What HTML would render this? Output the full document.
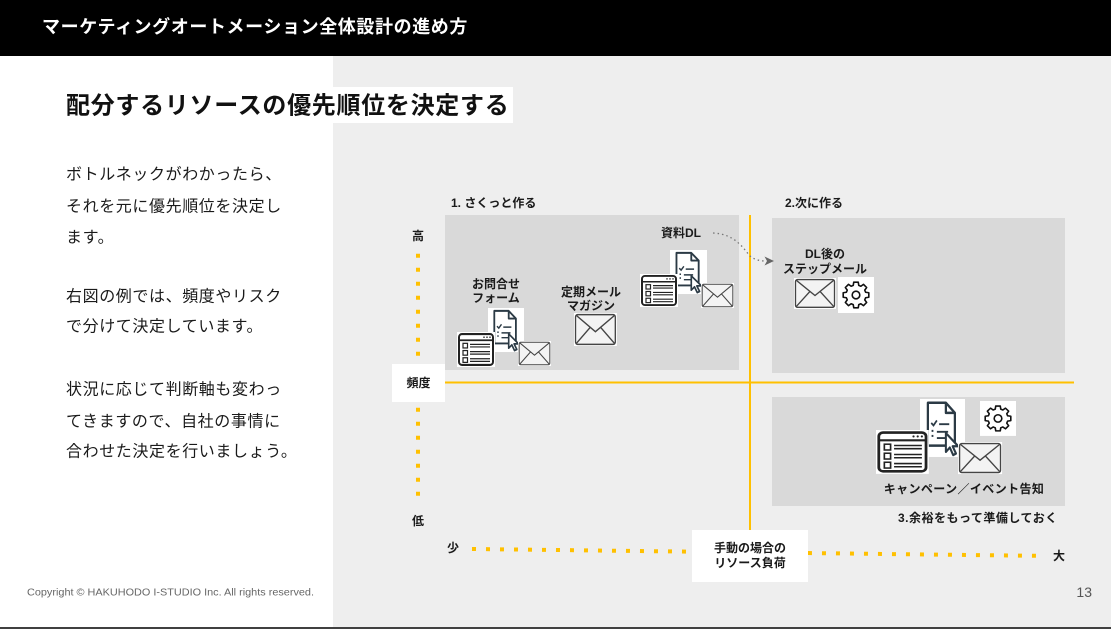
<!DOCTYPE html>
<html lang="ja">
<head>
<meta charset="utf-8">
<style>
html,body{margin:0;padding:0;background:#fff;}
body{width:1111px;height:629px;overflow:hidden;}
svg{display:block;}
text{font-family:"Liberation Sans","Noto Sans CJK JP",sans-serif;}
.b{font-weight:bold;fill:#1a1a1a;font-size:12px;}
.p{font-size:16px;fill:#1a1a1a;letter-spacing:0.6px;}
</style>
</head>
<body>
<svg width="1111" height="629" viewBox="0 0 1111 629" xmlns="http://www.w3.org/2000/svg">
  <!-- backgrounds -->
  <rect x="0" y="0" width="1111" height="629" fill="#ffffff"/>
  <rect x="333" y="56" width="778" height="571" fill="#eeeeee"/>
  <rect x="0" y="0" width="1111" height="56" fill="#000000"/>
  <text x="42" y="27" fill="#ffffff" font-size="18" font-weight="bold" letter-spacing="0.6" dominant-baseline="central">マーケティングオートメーション全体設計の進め方</text>

  <!-- subtitle -->
  <rect x="60" y="87" width="453" height="36" fill="#ffffff"/>
  <text x="66" y="106" fill="#111" font-size="24" font-weight="bold" letter-spacing="0.7" dominant-baseline="central">配分するリソースの優先順位を決定する</text>

  <!-- left paragraph -->
  <text class="p" x="66" y="175" dominant-baseline="central">ボトルネックがわかったら、</text>
  <text class="p" x="66" y="207" dominant-baseline="central">それを元に優先順位を決定し</text>
  <text class="p" x="66" y="238" dominant-baseline="central">ます。</text>
  <text class="p" x="66" y="297" dominant-baseline="central">右図の例では、頻度やリスク</text>
  <text class="p" x="66" y="327" dominant-baseline="central">で分けて決定しています。</text>
  <text class="p" x="66" y="390" dominant-baseline="central">状況に応じて判断軸も変わっ</text>
  <text class="p" x="66" y="422" dominant-baseline="central">てきますので、自社の事情に</text>
  <text class="p" x="66" y="452" dominant-baseline="central">合わせた決定を行いましょう。</text>

  <!-- quadrant boxes -->
  <rect x="445" y="215" width="294" height="155" fill="#d9d9d9"/>
  <rect x="772" y="218" width="293" height="155" fill="#d9d9d9"/>
  <rect x="772" y="397" width="293" height="109" fill="#d9d9d9"/>

  <!-- axes lines -->
  <line x1="445" y1="382.5" x2="1074" y2="382.5" stroke="#ffc000" stroke-width="2"/>
  <line x1="750" y1="215" x2="750" y2="545" stroke="#ffc000" stroke-width="2"/>

  <!-- vertical dotted axis -->
  <line x1="418" y1="253.7" x2="418" y2="496" stroke="#ffc000" stroke-width="4" stroke-dasharray="4 10"/>
  <!-- horizontal dotted axis -->
  <line x1="472" y1="549" x2="1036" y2="555.8" stroke="#ffc000" stroke-width="4" stroke-dasharray="4 10"/>

  <!-- axis label boxes -->
  <rect x="392" y="364" width="53" height="38" fill="#ffffff"/>
  <text class="b" x="418.5" y="383" text-anchor="middle" dominant-baseline="central">頻度</text>
  <rect x="692" y="530" width="116" height="52" fill="#ffffff"/>
  <text class="b" x="750" y="548" text-anchor="middle" dominant-baseline="central">手動の場合の</text>
  <text class="b" x="750" y="563" text-anchor="middle" dominant-baseline="central">リソース負荷</text>

  <text class="b" x="418" y="236" text-anchor="middle" dominant-baseline="central">高</text>
  <text class="b" x="418" y="521" text-anchor="middle" dominant-baseline="central">低</text>
  <text class="b" x="453" y="548" text-anchor="middle" dominant-baseline="central">少</text>
  <text class="b" x="1059" y="556" text-anchor="middle" dominant-baseline="central">大</text>

  <!-- section labels -->
  <text class="b" x="451" y="203" dominant-baseline="central">1. さくっと作る</text>
  <text class="b" x="785" y="203" dominant-baseline="central">2.次に作る</text>
  <text class="b" x="898" y="518" dominant-baseline="central" letter-spacing="0.5">3.余裕をもって準備しておく</text>

  <!-- item labels -->
  <text class="b" x="496" y="284" text-anchor="middle" dominant-baseline="central">お問合せ</text>
  <text class="b" x="496" y="298" text-anchor="middle" dominant-baseline="central">フォーム</text>
  <text class="b" x="591" y="292" text-anchor="middle" dominant-baseline="central">定期メール</text>
  <text class="b" x="591" y="306" text-anchor="middle" dominant-baseline="central">マガジン</text>
  <text class="b" x="681" y="233" text-anchor="middle" dominant-baseline="central">資料DL</text>
  <text class="b" x="825" y="254" text-anchor="middle" dominant-baseline="central">DL後の</text>
  <text class="b" x="825" y="269" text-anchor="middle" dominant-baseline="central">ステップメール</text>
  <text class="b" x="964" y="489" text-anchor="middle" dominant-baseline="central" letter-spacing="0.4">キャンペーン／イベント告知</text>

  <!-- dotted arrow -->
  <path d="M713,233 C735,234 743,248 750,256 Q756,261 766,261" fill="none" stroke="#777" stroke-width="1.3" stroke-dasharray="1.5 3"/>
  <polygon points="774,261 764.5,256.5 767,261 764.5,265.5" fill="#666"/>

  <!-- ===== Box 1: 資料DL icons ===== -->
  <g transform="translate(670,250) scale(0.925,0.957)">
    <rect width="40" height="46" fill="#fff"/>
    <path d="M7,3 H23 L31,11 V37 H7 Z" fill="#fff" stroke="#2b3a45" stroke-width="2" stroke-linejoin="round"/>
    <path d="M23,3 V11 H31" fill="none" stroke="#2b3a45" stroke-width="2" stroke-linejoin="round"/>
    <path d="M10,19 L12,21 L15,17" fill="none" stroke="#2b3a45" stroke-width="1.5"/>
    <path d="M17,20 H26 M15,26 H25 M15,31 H23" stroke="#2b3a45" stroke-width="1.5"/>
    <rect x="10.3" y="24.5" width="1.6" height="1.6" fill="#2b3a45"/>
    <rect x="10.3" y="28.5" width="1.6" height="1.6" fill="#2b3a45"/>
    <path d="M23,27 L23,42 L26.5,38.5 L29.5,44.5 L32,43.3 L29,37.5 L34,37.5 Z" fill="#fff" stroke="#2b3a45" stroke-width="1.8" stroke-linejoin="round"/>
  </g>
  <g transform="translate(640,274) scale(1,0.97)">
    <rect width="38" height="34" fill="#fff"/>
    <rect x="2" y="2" width="34" height="30" rx="3" fill="none" stroke="#222" stroke-width="2"/>
    <line x1="2" y1="8" x2="36" y2="8" stroke="#222" stroke-width="1.6"/>
    <circle cx="27" cy="5" r="0.8" fill="#222"/><circle cx="30" cy="5" r="0.8" fill="#222"/><circle cx="33" cy="5" r="0.8" fill="#222"/>
    <g fill="none" stroke="#222" stroke-width="1.2">
      <rect x="6" y="11" width="4.5" height="4.5"/><rect x="6" y="18" width="4.5" height="4.5"/><rect x="6" y="25" width="4.5" height="4.5"/>
      <path d="M13,12 H33 M13,14.5 H33 M13,19 H33 M13,21.5 H33 M13,26 H33 M13,28.5 H33"/>
    </g>
  </g>
  <g transform="translate(701,283) scale(0.786,0.833)">
    <rect width="42" height="30" fill="#fff"/>
    <rect x="1.5" y="1.5" width="39" height="27" rx="2" fill="#f3f3f3" stroke="#444" stroke-width="1.3"/>
    <path d="M2,2 L21,17 L40,2 M2,28 L16,13 M40,28 L26,13" fill="none" stroke="#444" stroke-width="1.3"/>
  </g>

  <!-- ===== Box 1: お問合せフォーム icons ===== -->
  <g transform="translate(488,308) scale(0.9,0.957)">
    <rect width="40" height="46" fill="#fff"/>
    <path d="M7,3 H23 L31,11 V37 H7 Z" fill="#fff" stroke="#2b3a45" stroke-width="2" stroke-linejoin="round"/>
    <path d="M23,3 V11 H31" fill="none" stroke="#2b3a45" stroke-width="2" stroke-linejoin="round"/>
    <path d="M10,19 L12,21 L15,17" fill="none" stroke="#2b3a45" stroke-width="1.5"/>
    <path d="M17,20 H26 M15,26 H25 M15,31 H23" stroke="#2b3a45" stroke-width="1.5"/>
    <rect x="10.3" y="24.5" width="1.6" height="1.6" fill="#2b3a45"/>
    <rect x="10.3" y="28.5" width="1.6" height="1.6" fill="#2b3a45"/>
    <path d="M23,27 L23,42 L26.5,38.5 L29.5,44.5 L32,43.3 L29,37.5 L34,37.5 Z" fill="#fff" stroke="#2b3a45" stroke-width="1.8" stroke-linejoin="round"/>
  </g>
  <g transform="translate(457,332) scale(1,1.03)">
    <rect width="38" height="34" fill="#fff"/>
    <rect x="2" y="2" width="34" height="30" rx="3" fill="none" stroke="#222" stroke-width="2"/>
    <line x1="2" y1="8" x2="36" y2="8" stroke="#222" stroke-width="1.6"/>
    <circle cx="27" cy="5" r="0.8" fill="#222"/><circle cx="30" cy="5" r="0.8" fill="#222"/><circle cx="33" cy="5" r="0.8" fill="#222"/>
    <g fill="none" stroke="#222" stroke-width="1.2">
      <rect x="6" y="11" width="4.5" height="4.5"/><rect x="6" y="18" width="4.5" height="4.5"/><rect x="6" y="25" width="4.5" height="4.5"/>
      <path d="M13,12 H33 M13,14.5 H33 M13,19 H33 M13,21.5 H33 M13,26 H33 M13,28.5 H33"/>
    </g>
  </g>
  <g transform="translate(518,341) scale(0.786,0.833)">
    <rect width="42" height="30" fill="#fff"/>
    <rect x="1.5" y="1.5" width="39" height="27" rx="2" fill="#f3f3f3" stroke="#444" stroke-width="1.3"/>
    <path d="M2,2 L21,17 L40,2 M2,28 L16,13 M40,28 L26,13" fill="none" stroke="#444" stroke-width="1.3"/>
  </g>

  <!-- ===== Box 1: 定期メールマガジン ===== -->
  <g transform="translate(574,313) scale(1.02,1.1)">
    <rect width="42" height="30" fill="#fff"/>
    <rect x="1.5" y="1.5" width="39" height="27" rx="2" fill="#f3f3f3" stroke="#444" stroke-width="1.3"/>
    <path d="M2,2 L21,17 L40,2 M2,28 L16,13 M40,28 L26,13" fill="none" stroke="#444" stroke-width="1.3"/>
  </g>

  <!-- ===== Box 2 ===== -->
  <g transform="translate(794,278) scale(1,1.03)">
    <rect width="42" height="30" fill="#fff"/>
    <rect x="1.5" y="1.5" width="39" height="27" rx="2" fill="#f3f3f3" stroke="#444" stroke-width="1.3"/>
    <path d="M2,2 L21,17 L40,2 M2,28 L16,13 M40,28 L26,13" fill="none" stroke="#444" stroke-width="1.3"/>
  </g>
  <g transform="translate(838,277)">
    <rect width="36" height="36" fill="#fff"/>
    <polygon points="27.61,15.24 30.80,15.74 30.80,20.26 27.61,20.76 26.75,22.85 28.65,25.46 25.46,28.65 22.85,26.75 20.76,27.61 20.26,30.80 15.74,30.80 15.24,27.61 13.15,26.75 10.54,28.65 7.35,25.46 9.25,22.85 8.39,20.76 5.20,20.26 5.20,15.74 8.39,15.24 9.25,13.15 7.35,10.54 10.54,7.35 13.15,9.25 15.24,8.39 15.74,5.20 20.26,5.20 20.76,8.39 22.85,9.25 25.46,7.35 28.65,10.54 26.75,13.15" fill="none" stroke="#111" stroke-width="1.6" stroke-linejoin="round"/>
    <circle cx="18" cy="18" r="3.8" fill="none" stroke="#111" stroke-width="1.6"/>
  </g>

  <!-- ===== Box 3 ===== -->
  <g transform="translate(980,401) scale(1,0.97)">
    <rect width="36" height="36" fill="#fff"/>
    <polygon points="27.61,15.24 30.80,15.74 30.80,20.26 27.61,20.76 26.75,22.85 28.65,25.46 25.46,28.65 22.85,26.75 20.76,27.61 20.26,30.80 15.74,30.80 15.24,27.61 13.15,26.75 10.54,28.65 7.35,25.46 9.25,22.85 8.39,20.76 5.20,20.26 5.20,15.74 8.39,15.24 9.25,13.15 7.35,10.54 10.54,7.35 13.15,9.25 15.24,8.39 15.74,5.20 20.26,5.20 20.76,8.39 22.85,9.25 25.46,7.35 28.65,10.54 26.75,13.15" fill="none" stroke="#111" stroke-width="1.6" stroke-linejoin="round"/>
    <circle cx="18" cy="18" r="3.8" fill="none" stroke="#111" stroke-width="1.6"/>
  </g>
  <g transform="translate(920,399) scale(1.125,1.26)">
    <rect width="40" height="46" fill="#fff"/>
    <path d="M7,3 H23 L31,11 V37 H7 Z" fill="#fff" stroke="#2b3a45" stroke-width="2" stroke-linejoin="round"/>
    <path d="M23,3 V11 H31" fill="none" stroke="#2b3a45" stroke-width="2" stroke-linejoin="round"/>
    <path d="M10,19 L12,21 L15,17" fill="none" stroke="#2b3a45" stroke-width="1.5"/>
    <path d="M17,20 H26 M15,26 H25 M15,31 H23" stroke="#2b3a45" stroke-width="1.5"/>
    <rect x="10.3" y="24.5" width="1.6" height="1.6" fill="#2b3a45"/>
    <rect x="10.3" y="28.5" width="1.6" height="1.6" fill="#2b3a45"/>
    <path d="M23,27 L23,42 L26.5,38.5 L29.5,44.5 L32,43.3 L29,37.5 L34,37.5 Z" fill="#fff" stroke="#2b3a45" stroke-width="1.8" stroke-linejoin="round"/>
  </g>
  <g transform="translate(876,430) scale(1.39,1.29)">
    <rect width="38" height="34" fill="#fff"/>
    <rect x="2" y="2" width="34" height="30" rx="3" fill="none" stroke="#222" stroke-width="2"/>
    <line x1="2" y1="8" x2="36" y2="8" stroke="#222" stroke-width="1.6"/>
    <circle cx="27" cy="5" r="0.8" fill="#222"/><circle cx="30" cy="5" r="0.8" fill="#222"/><circle cx="33" cy="5" r="0.8" fill="#222"/>
    <g fill="none" stroke="#222" stroke-width="1.2">
      <rect x="6" y="11" width="4.5" height="4.5"/><rect x="6" y="18" width="4.5" height="4.5"/><rect x="6" y="25" width="4.5" height="4.5"/>
      <path d="M13,12 H33 M13,14.5 H33 M13,19 H33 M13,21.5 H33 M13,26 H33 M13,28.5 H33"/>
    </g>
  </g>
  <g transform="translate(958,442) scale(1.05,1.07)">
    <rect width="42" height="30" fill="#fff"/>
    <rect x="1.5" y="1.5" width="39" height="27" rx="2" fill="#f3f3f3" stroke="#444" stroke-width="1.3"/>
    <path d="M2,2 L21,17 L40,2 M2,28 L16,13 M40,28 L26,13" fill="none" stroke="#444" stroke-width="1.3"/>
  </g>

  <!-- footer -->
  <text x="27" y="593" font-size="10" fill="#666" dominant-baseline="central" textLength="287" lengthAdjust="spacingAndGlyphs">Copyright © HAKUHODO I-STUDIO Inc. All rights reserved.</text>
  <text x="1092" y="592" font-size="14" fill="#555" text-anchor="end" dominant-baseline="central">13</text>
  <rect x="0" y="627" width="1111" height="2" fill="#404040"/>
</svg>
</body>
</html>
